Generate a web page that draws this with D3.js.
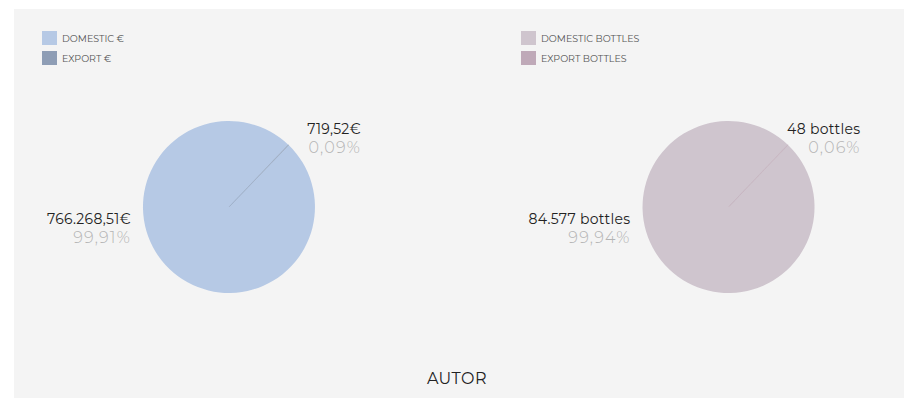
<!DOCTYPE html>
<html><head><meta charset="utf-8">
<script src="https://cdn.jsdelivr.net/npm/d3@7"></script>
<style>
html,body{margin:0;padding:0;background:#fff;}
svg text{font-family:"Montserrat","Lato","Open Sans",sans-serif;}
</style></head>
<body><svg id="c" width="920" height="398"></svg>
<script>
const categories = ["EXPORT", "DOMESTIC"];
const euroValues = [719.52, 766268.51];
const bottleValues = [48, 84577];
const euroLabels = ["719,52€", "766.268,51€"];
const bottleLabels = ["48 bottles", "84.577 bottles"];
const euroPercents = ["0,09%", "99,91%"];
const bottlePercents = ["0,06%", "99,94%"];
const euroLegend = ["DOMESTIC €", "EXPORT €"];
const bottleLegend = ["DOMESTIC BOTTLES", "EXPORT BOTTLES"];
const euroColors = {EXPORT: "#8e9db5", DOMESTIC: "#b6c9e5"};
const bottleColors = {EXPORT: "#bfa9b8", DOMESTIC: "#cfc5ce"};
const title = "AUTOR";

const svg = d3.select("#c");
svg.append("rect").attr("x", 14).attr("y", 9).attr("width", 890).attr("height", 389).attr("fill", "#f4f4f4");

const radius = 86;
const startA = 43.6 * Math.PI / 180;
const pie = d3.pie().sort(null).startAngle(startA).endAngle(startA + 2 * Math.PI);
const arc = d3.arc().innerRadius(0).outerRadius(radius);

function drawPanel(cx, cy, values, colors, labels, percents, legend, lx, ly) {
  const g = svg.append("g").attr("transform", `translate(${cx},${cy})`);
  const arcs = pie(values);
  const order = [1, 0];
  order.forEach(i => {
    const p = g.append("path").attr("d", arc(arcs[i])).attr("fill", colors[categories[i]]);
    if (i === 0) p.attr("stroke", colors[categories[i]]).attr("stroke-width", 0.4).attr("stroke-opacity", 0.8);
  });
  arcs.forEach((a, i) => {
    const mid = (a.startAngle + a.endAngle) / 2;
    const right = Math.sin(mid) > 0;
    let x, y;
    if (right) { x = radius + 46; y = -73; }
    else { x = -(radius + 12); y = 17; }
    const t = g.append("g").attr("transform", `translate(${x},${y})`);
    t.append("text").attr("text-anchor", "end").attr("font-size", 14).attr("fill", "#222")
      .attr("letter-spacing", 0.3).text(labels[i]);
    t.append("text").attr("text-anchor", "end").attr("y", 19).attr("font-size", 16)
      .attr("font-weight", 300).attr("letter-spacing", 1.2).attr("fill", "#b4b4b4").text(percents[i]);
  });
  const lg = svg.append("g").attr("transform", `translate(${lx},${ly})`);
  const legCats = ["DOMESTIC", "EXPORT"];
  legCats.forEach((c, i) => {
    lg.append("rect").attr("x", 0).attr("y", i * 20).attr("width", 15).attr("height", 14).attr("fill", colors[c]);
    lg.append("text").attr("x", 20).attr("y", i * 20 + 11).attr("font-size", 9.5).attr("fill", "#555").text(legend[i]);
  });
}

drawPanel(229, 207, euroValues, euroColors, euroLabels, euroPercents, euroLegend, 42, 31);
drawPanel(728.5, 207, bottleValues, bottleColors, bottleLabels, bottlePercents, bottleLegend, 521, 31);

svg.append("text").attr("x", 457).attr("y", 384).attr("text-anchor", "middle").attr("font-size", 16)
  .attr("fill", "#222").attr("letter-spacing", 0.5).text(title);
</script></body></html>
